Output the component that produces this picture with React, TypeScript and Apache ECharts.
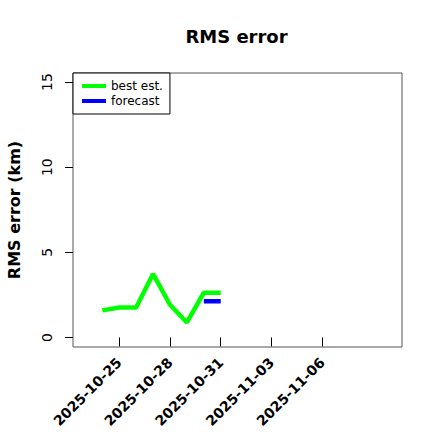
import React, { useEffect, useRef } from "react";
import * as echarts from "echarts";

const bestDates = ["2025-10-24", "2025-10-25", "2025-10-26", "2025-10-27", "2025-10-28", "2025-10-29", "2025-10-30", "2025-10-31"];
const bestValues = [1.59, 1.76, 1.76, 3.73, 1.92, 0.88, 2.63, 2.63];
const forecastDates = ["2025-10-30", "2025-10-31"];
const forecastValues = [2.12, 2.12];
const xTickDates = ["2025-10-25", "2025-10-28", "2025-10-31", "2025-11-03", "2025-11-06"];
const yTicks = [0, 5, 10, 15];
const seriesNames = ["best est.", "forecast"];

const DAY = 86400000;
const ts = (d: string) => new Date(d + "T00:00:00Z").getTime();

export default function App() {
  const ref = useRef<HTMLDivElement>(null);
  useEffect(() => {
    if (!ref.current) return;
    const chart = echarts.init(ref.current, null, { renderer: "svg" });
    const font = "DejaVu Sans";
    chart.setOption({
      animation: false,
      backgroundColor: "#ffffff",
      title: {
        text: "RMS error",
        left: 231.5,
        top: 22,
        textAlign: "center",
        textStyle: { fontFamily: font, fontWeight: "bold", fontSize: 18, color: "#000" },
      },
      legend: {
        orient: "vertical",
        left: 73,
        top: 73,
        padding: [6, 7, 6, 9],
        itemGap: 1,
        itemWidth: 24,
        itemHeight: 4,
        icon: "rect",
        borderColor: "#000",
        borderWidth: 1,
        backgroundColor: "#fff",
        data: seriesNames,
        textStyle: { fontFamily: font, fontSize: 12, color: "#000", lineHeight: 14 },
      },
      grid: {
        left: 73,
        top: 73,
        right: 38,
        bottom: 93,
        show: true,
        borderColor: "#555",
        borderWidth: 1,
        outerBoundsMode: "none",
        containLabel: false,
      },
      xAxis: {
        type: "value",
        min: ts("2025-10-22") + 0.27 * DAY,
        max: ts("2025-11-10") + 0.71 * DAY,
        splitLine: { show: false },
        axisLine: { show: false },
        axisTick: {
          show: true,
          length: 9,
          lineStyle: { color: "#000" },
          customValues: xTickDates.map(ts),
        },
        axisLabel: {
          customValues: xTickDates.map(ts),
          rotate: 45,
          margin: 13,
          fontFamily: font,
          fontWeight: "bold",
          fontSize: 14,
          color: "#000",
          formatter: (v: number) => new Date(v).toISOString().slice(0, 10),
        },
      },
      yAxis: {
        type: "value",
        min: -0.56,
        max: 15.53,
        name: "RMS error (km)",
        nameLocation: "middle",
        nameGap: 51,
        nameTextStyle: { fontFamily: font, fontWeight: "bold", fontSize: 16, color: "#000" },
        splitLine: { show: false },
        axisLine: { show: false },
        axisTick: { show: true, length: 8, lineStyle: { color: "#000" }, customValues: yTicks },
        axisLabel: {
          customValues: yTicks,
          rotate: 90,
          margin: 19,
          verticalAlign: "bottom",
          fontFamily: font,
          fontSize: 14,
          color: "#000",
        },
      },
      series: [
        {
          name: seriesNames[0],
          type: "line",
          data: bestDates.map((d, i) => [ts(d), bestValues[i]]),
          showSymbol: false,
          lineStyle: { color: "#00ff00", width: 4.5 },
          itemStyle: { color: "#00ff00" },
        },
        {
          name: seriesNames[1],
          type: "line",
          data: forecastDates.map((d, i) => [ts(d), forecastValues[i]]),
          showSymbol: false,
          lineStyle: { color: "#0000ff", width: 4.5 },
          itemStyle: { color: "#0000ff" },
        },
      ],
    });
    return () => chart.dispose();
  }, []);
  return <div ref={ref} style={{ width: 440, height: 440, position: "absolute", left: 0, top: 0 }} />;
}
